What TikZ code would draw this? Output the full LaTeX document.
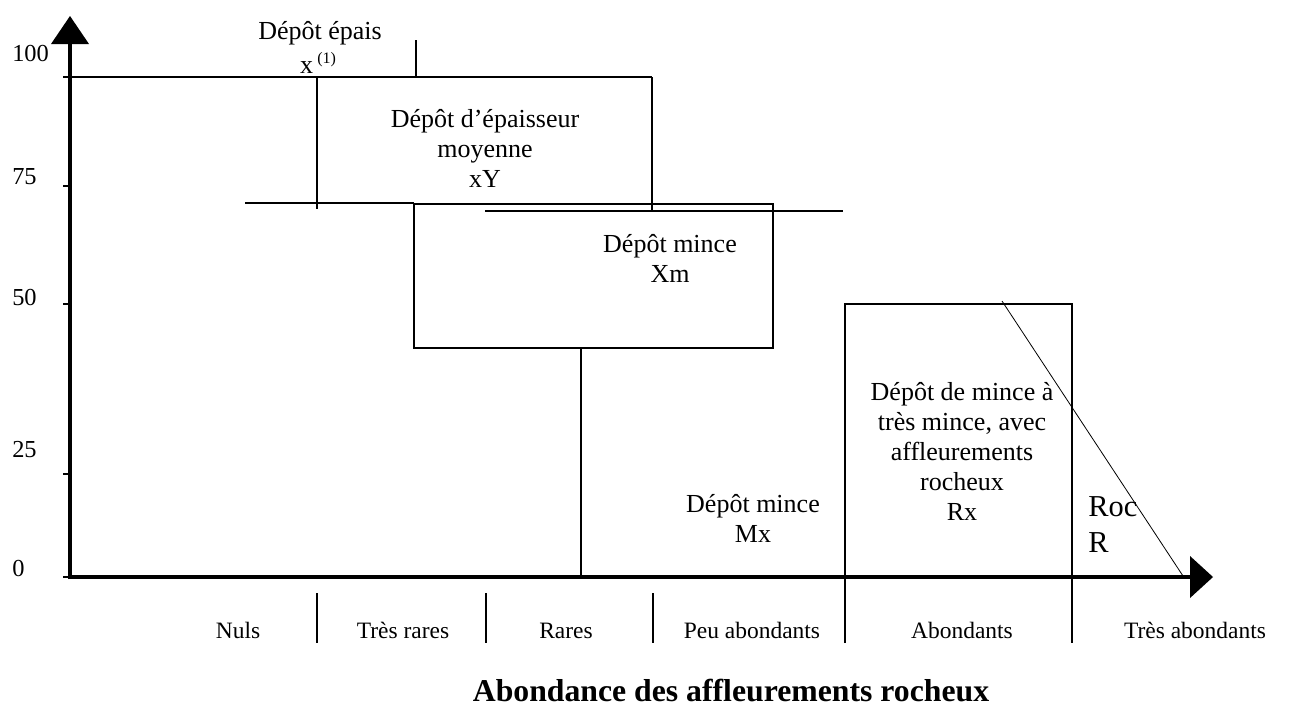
\documentclass[tikz,border=0pt]{standalone}
\usepackage{fontspec}
\setmainfont{Liberation Serif}
\begin{document}
\begin{tikzpicture}[x=0.75pt,y=-0.75pt,
  ln/.style={line width=1.1pt},
  axisline/.style={line width=3.6pt},
  tick/.style={line width=1.1pt},
  diag/.style={line width=0.6pt},
  head/.style={fill=black,draw=none},
  boxtext/.style={font=\fontsize{19.5}{22.5}\selectfont, align=center, inner sep=0pt},
  ticklabel/.style={font=\fontsize{18.3}{20}\selectfont, anchor=west, inner sep=0pt},
  catlabel/.style={font=\fontsize{17.6}{20}\selectfont, anchor=base, inner sep=0pt},
  roclabel/.style={font=\fontsize{22.8}{27}\selectfont, align=left, anchor=west, inner sep=0pt},
  titlelabel/.style={font=\bfseries\fontsize{23.8}{26}\selectfont, anchor=base, inner sep=0pt}
]
\useasboundingbox (0,0) rectangle (1305,708);

% key coordinates
\coordinate (O) at (70,577);
\coordinate (Ytop) at (70,44);
\coordinate (Xend) at (1192,577);

% axes
\draw[axisline] (70,579) -- (Ytop);
\draw[axisline] (68,577) -- (Xend);
\fill[head] (70,16) -- (89,44) -- (51,44) -- cycle;
\fill[head] (1213,577) -- (1190,556) -- (1190,598) -- cycle;

% ticks
\foreach \yy in {186,304,474,577} \draw[tick] (63,\yy) -- (70,\yy);

% tick labels
\node[ticklabel] (t100) at (12,53) {100};
\node[ticklabel] (t75) at (12,177) {75};
\node[ticklabel] (t50) at (12,297) {50};
\node[ticklabel] (t25) at (12,450) {25};
\node[ticklabel] (t0) at (12,568) {0};

% 100 line and thick deposit marker
\draw[ln] (63,77) -- (652,77);
\draw[ln] (416,40) -- (416,77);

% medium deposit box xY
\draw[ln] (317,77) -- (317,209);
\draw[ln] (652,77) -- (652,211);

% thin deposit Xm
\draw[ln] (245,203) -- (414,203);
\draw[ln] (414,204) rectangle (773,348);
\draw[ln] (485,211) -- (843,211);
\draw[ln] (581,348) -- (581,577);

% Rx box
\draw[ln] (845,643) -- (845,304) -- (1072,304) -- (1072,643);

% diagonal
\draw[diag] (1002,301) -- (1183,576);

% dividers
\foreach \xx in {317,486,653} \draw[ln] (\xx,593) -- (\xx,643);

% texts
\node[boxtext] (epais) at (320,33) {Dépôt épais};
\node[boxtext] (epaisx) at (318,63) {x\,\raisebox{0.9ex}{\fontsize{12}{14}\selectfont(1)}};
\node[boxtext] (xY) at (485,148) {Dépôt d’épaisseur\\moyenne\\xY};
\node[boxtext] (Xm) at (670,258) {Dépôt mince\\Xm};
\node[boxtext] (Mx) at (753,518) {Dépôt mince\\Mx};
\node[boxtext] (Rx) at (962,451) {Dépôt de mince à\\très mince, avec\\affleurements\\rocheux\\Rx};
\node[roclabel] (Roc) at (1088,525) {Roc\\R};

% category labels
\node[catlabel] (c1) at (238,638) {Nuls};
\node[catlabel] (c2) at (403,638) {Très rares};
\node[catlabel] (c3) at (566,638) {Rares};
\node[catlabel] (c4) at (752,638) {Peu abondants};
\node[catlabel] (c5) at (962,638) {Abondants};
\node[catlabel] (c6) at (1195,638) {Très abondants};

% title
\node[titlelabel] (title) at (731,701) {Abondance des affleurements rocheux};
\end{tikzpicture}
\end{document}
